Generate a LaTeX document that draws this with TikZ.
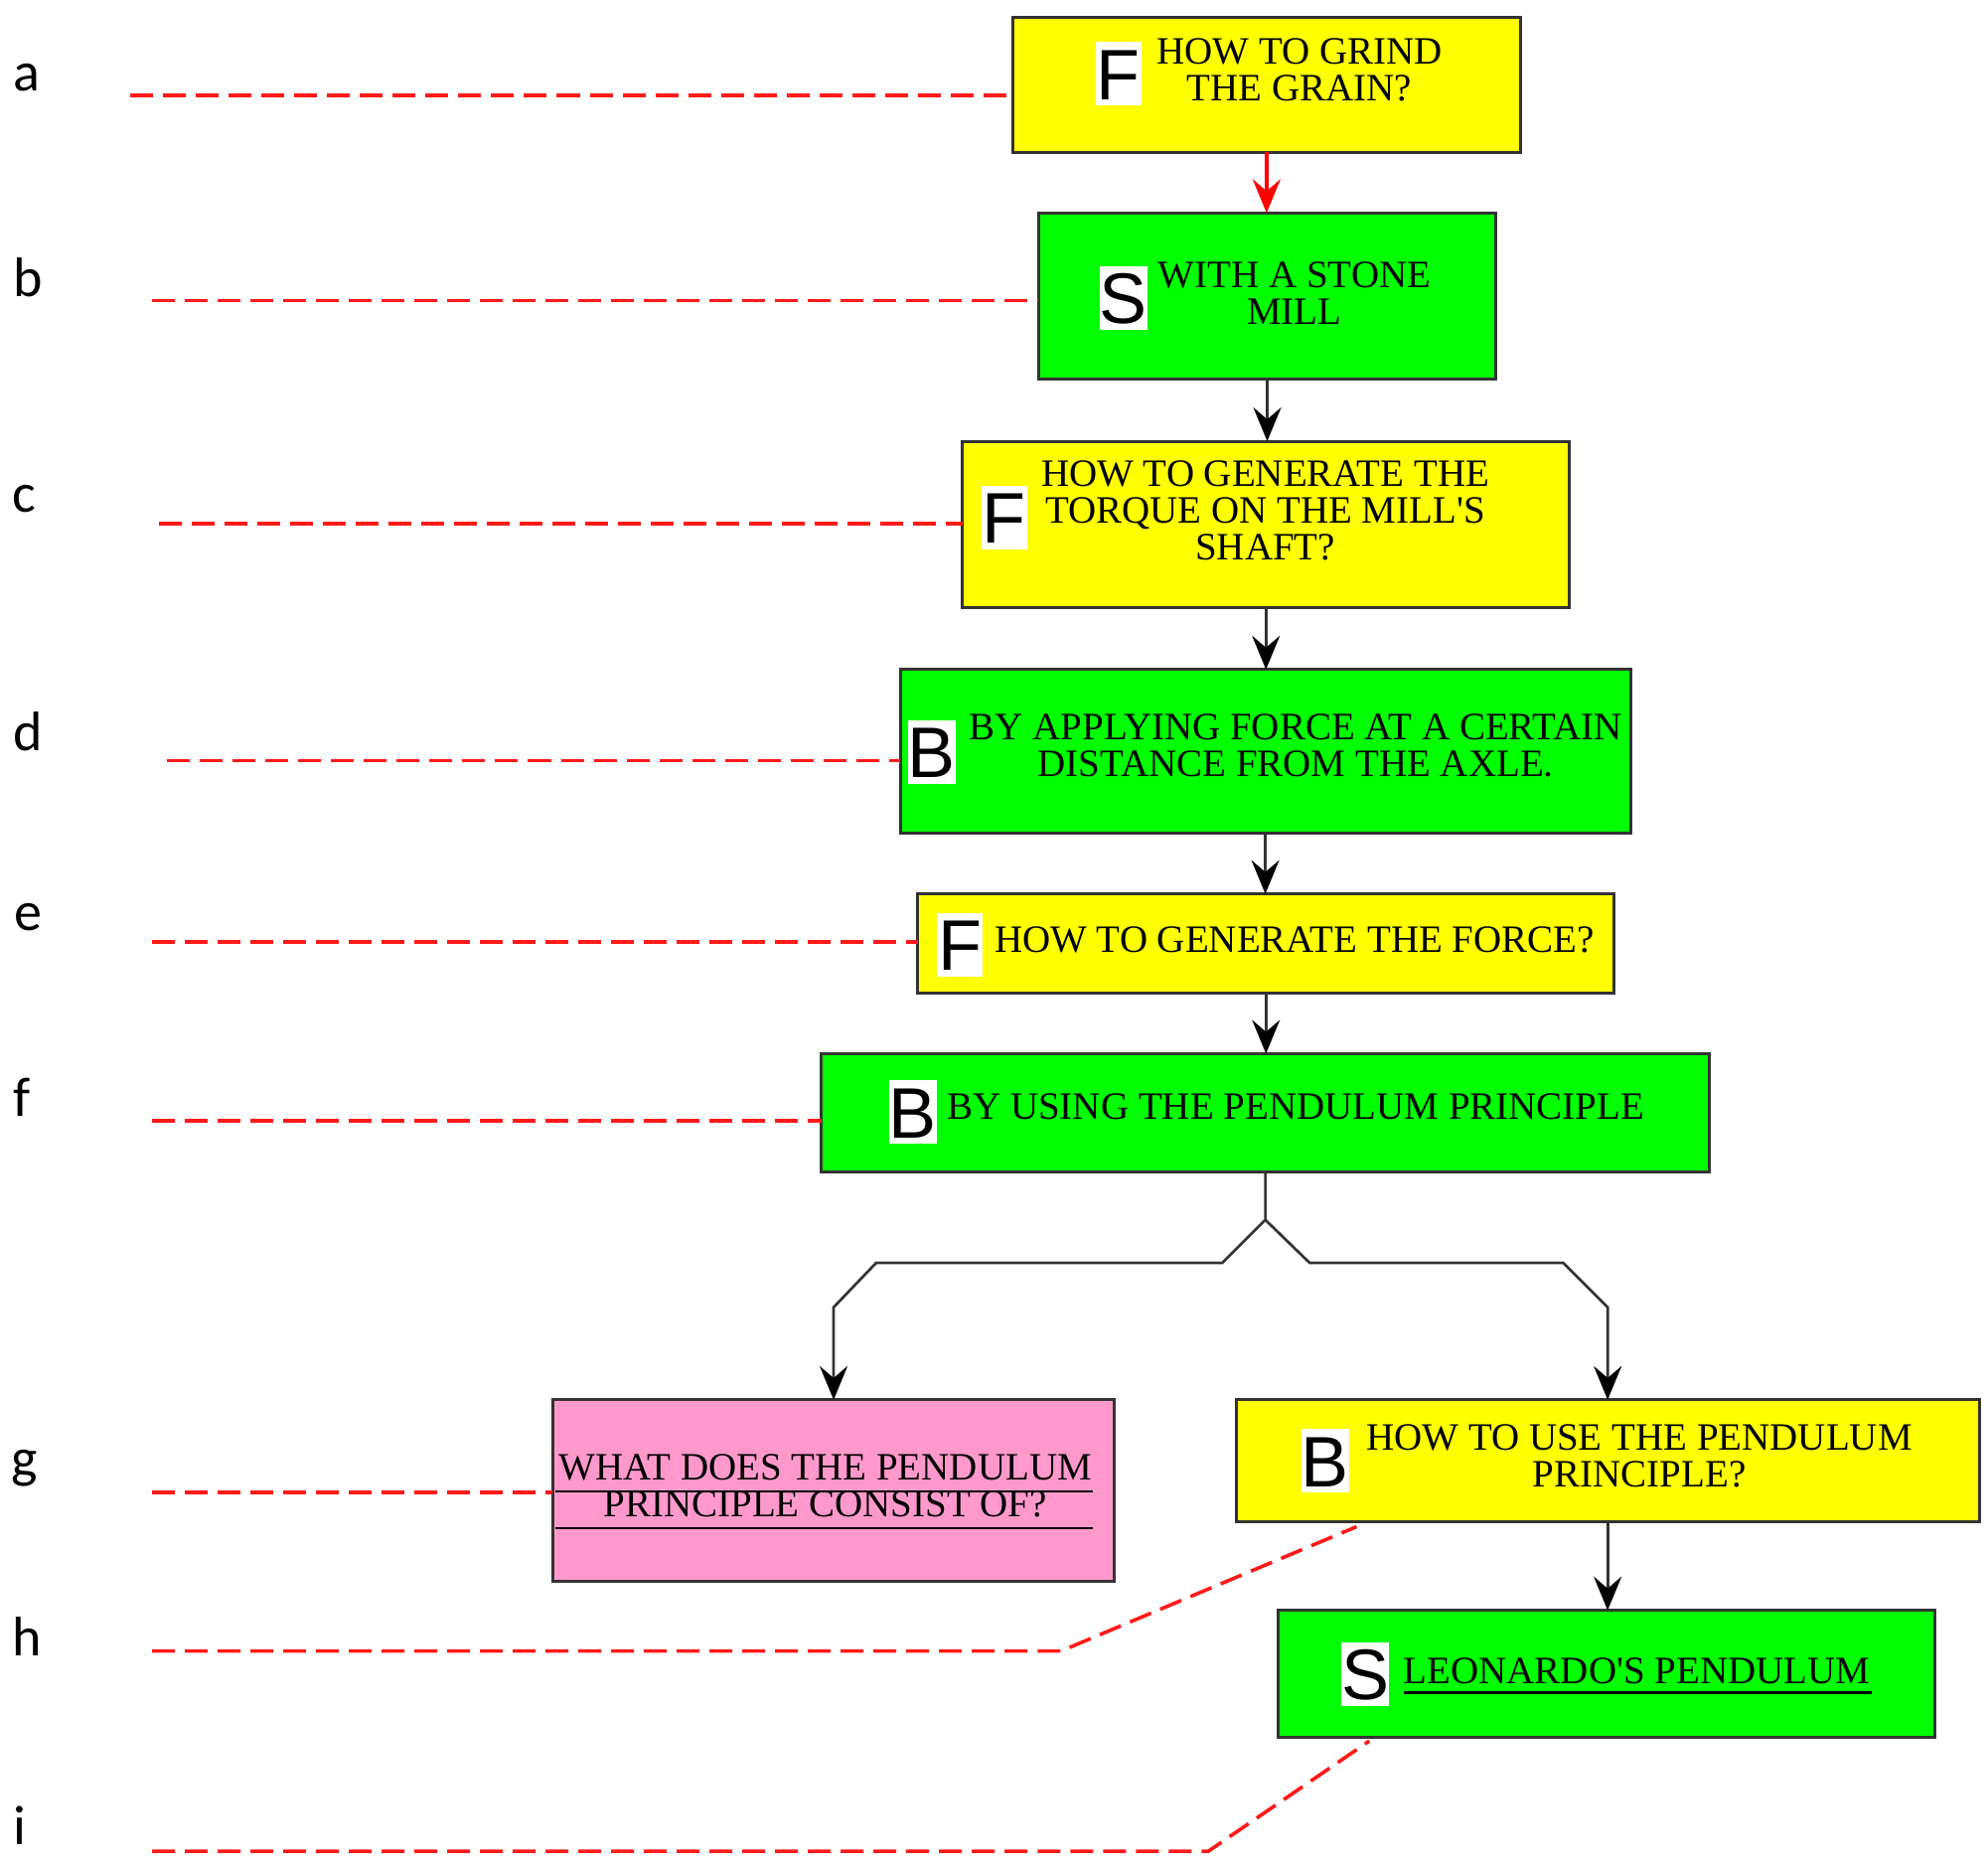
\documentclass[tikz,border=0pt]{standalone}
\usepackage{fontspec}
\setmainfont{Liberation Serif}
\newfontfamily\tagfont{Liberation Sans}
\newfontfamily\labfont{Carlito}
\usetikzlibrary{arrows.meta}
\definecolor{yel}{HTML}{FFFF00}
\definecolor{grn}{HTML}{00FF00}
\definecolor{pnk}{HTML}{FF99CC}
\definecolor{rdash}{HTML}{FF1A1A}
\tikzset{
  bx/.style 2 args={draw=black!80, line width=1.5pt, inner sep=0pt, outer sep=0pt,
    minimum width=#1*0.638pt, minimum height=#2*0.638pt},
  tagbox/.style={fill=white, inner xsep=0pt, inner ysep=2pt, minimum width=23pt,
    text height=27pt, text depth=1pt, font=\tagfont\fontsize{36}{36}\selectfont},
  txt/.style={align=center, inner sep=0pt, font=\fontsize{19.5}{18.5}\selectfont},
  lab/.style={anchor=base, inner sep=0pt, font=\labfont\fontsize{28}{28}\selectfont},
  reddash/.style={draw=rdash, line width=1.8pt, dash pattern=on 11.5pt off 5pt},
  conn/.style={draw=black!80, line width=1.35pt, -{Stealth[length=17pt,width=14pt,inset=6pt,color=black]}},
  redconn/.style={draw=red, line width=1.8pt, -{Stealth[length=17pt,width=14pt,inset=6pt]}},
  uline/.style={draw=black, line width=1.2pt}
}
\begin{document}
\begin{tikzpicture}[x=0.638pt,y=-0.638pt]
\useasboundingbox (0,0) rectangle (1568,1472.4);
% boxes
\node[bx={400}{106}, fill=yel] (a) at (999,67) {};
\node[bx={361}{131}, fill=grn] (b) at (999.5,233.5) {};
\node[bx={479}{131}, fill=yel] (c) at (998.5,413.5) {};
\node[bx={576}{129}, fill=grn] (d) at (998,592.5) {};
\node[bx={549}{78}, fill=yel] (e) at (998.5,744) {};
\node[bx={700}{93}, fill=grn] (f) at (998,877.5) {};
\node[bx={443}{143}, fill=pnk] (g) at (657.5,1175.5) {};
\node[bx={586}{96}, fill=yel] (h) at (1268,1152) {};
\node[bx={518}{100}, fill=grn] (i) at (1267,1320) {};
% tags
\node[tagbox] (ta) at (882,58) {F};
\node[tagbox] (tb) at (886,235) {S};
\node[tagbox] (tc) at (792,408) {F};
\node[tagbox] (td) at (735,593) {B};
\node[tagbox] (te) at (757,745) {F};
\node[tagbox] (tf) at (720,877) {B};
\node[tagbox] (th) at (1045,1152) {B};
\node[tagbox] (ti) at (1077,1320) {S};
% texts
\node[txt] (xa) at (1025,55) {HOW TO GRIND\\THE GRAIN?};
\node[txt] (xb) at (1021,231) {WITH A STONE\\MILL};
\node[txt] (xc) at (998,403) {HOW TO GENERATE THE\\TORQUE ON THE MILL\textquotesingle S\\SHAFT?};
\node[txt] (xd) at (1022,588) {BY APPLYING FORCE AT A CERTAIN\\DISTANCE FROM THE AXLE.};
\node[txt] (xe) at (1021,741) {HOW TO GENERATE THE FORCE?};
\node[txt] (xf) at (1022,873) {BY USING THE PENDULUM PRINCIPLE};
\node[txt] (xg) at (651,1171.5) {WHAT DOES THE PENDULUM\\PRINCIPLE CONSIST OF?};
\node[txt] (xh) at (1293,1148) {HOW TO USE THE PENDULUM\\PRINCIPLE?};
\node[txt] (xi) at (1291,1318) {LEONARDO\textquotesingle S PENDULUM};
% underlines
\draw[uline] (438,1176) -- (862,1176);
\draw[uline] (438,1205) -- (862,1205);
\draw[uline] (1107,1335) -- (1476,1335);
% connectors
\draw[redconn] (a.south) -- (a.south |- b.north);
\draw[conn] (b.south) -- (b.south |- c.north);
\draw[conn] (c.south) -- (c.south |- d.north);
\draw[conn] (d.south) -- (d.south |- e.north);
\draw[conn] (e.south) -- (e.south |- f.north);
\coordinate (s0) at (998,962);
\coordinate (l1) at (964,996);
\coordinate (l2) at (691,996);
\coordinate (l3) at (657.5,1031);
\coordinate (r1) at (1033,996);
\coordinate (r2) at (1233,996);
\coordinate (r3) at (1268,1031);
\draw[conn] (f.south) -- (s0) -- (l1) -- (l2) -- (l3) -- (g.north);
\draw[conn] (s0) -- (r1) -- (r2) -- (r3) -- (h.north);
\draw[conn] (h.south) -- (h.south |- i.north);
% left labels
\node[lab] (la) at (21,72) {a};
\node[lab] (lb) at (22,234) {b};
\node[lab] (lc) at (19,404) {c};
\node[lab] (ld) at (22,592) {d};
\node[lab] (le) at (22,734) {e};
\node[lab] (lf) at (17,880) {f};
\node[lab] (lg) at (19,1165) {g};
\node[lab] (lh) at (21,1306) {h};
\node[lab] (li) at (16,1455) {i};
% red dashed level lines
\coordinate (da) at (103,75);
\coordinate (db) at (120,237);
\coordinate (dc) at (125,413);
\coordinate (dd) at (132,600);
\coordinate (de) at (120,743);
\coordinate (df) at (120,884);
\coordinate (dg) at (120,1177);
\coordinate (dh0) at (120,1302);
\coordinate (dh1) at (837,1302);
\coordinate (dh2) at (1070,1204);
\coordinate (di0) at (120,1460);
\coordinate (di1) at (953,1460);
\coordinate (di2) at (1080,1373);
\draw[reddash] (da) -- (da -| a.west);
\draw[reddash] (db) -- (db -| b.west);
\draw[reddash] (dc) -- (dc -| c.west);
\draw[reddash] (dd) -- (dd -| d.west);
\draw[reddash] (de) -- (de -| e.west);
\draw[reddash] (df) -- (df -| f.west);
\draw[reddash] (dg) -- (dg -| g.west);
\draw[reddash] (dh0) -- (dh1) -- (dh2);
\draw[reddash] (di0) -- (di1) -- (di2);
\end{tikzpicture}
\end{document}
